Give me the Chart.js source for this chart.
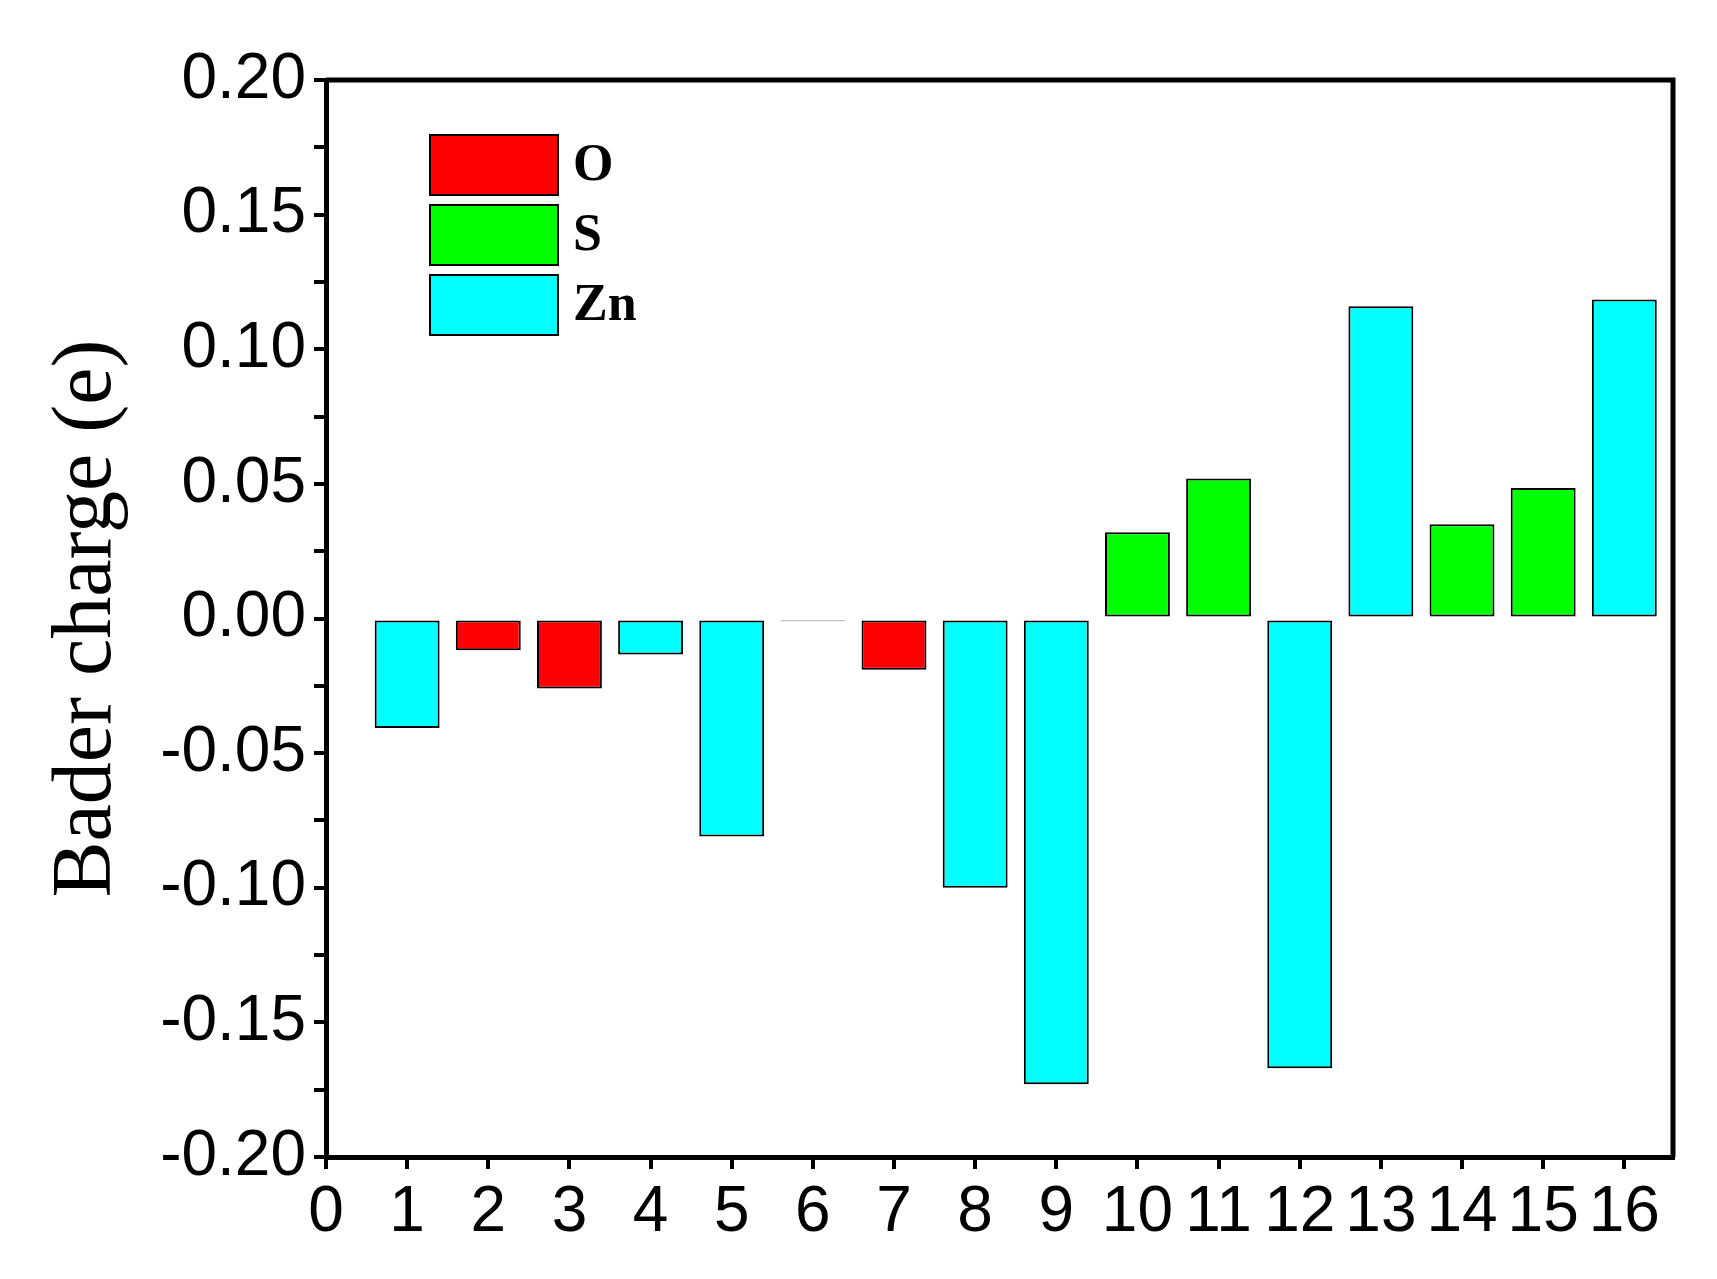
<!DOCTYPE html>
<html><head><meta charset="utf-8">
<script src="https://cdn.jsdelivr.net/npm/chart.js@4"></script>
<style>html,body{margin:0;padding:0;background:#fff}#w{width:1717px;height:1279px}</style>
</head><body><div id="w"><canvas id="c"></canvas></div>
<script>
const sites = [1,2,3,4,5,6,7,8,9,10,11,12,13,14,15,16];
const charges = [-0.0407,-0.0118,-0.026,-0.0134,-0.081,-0.001,-0.019,-0.100,-0.173,0.032,0.052,-0.167,0.116,0.035,0.0485,0.1185];
const elements = ['Zn','O','O','Zn','Zn','O','O','Zn','Zn','S','S','Zn','Zn','S','S','Zn'];
const xTicks = [0,1,2,3,4,5,6,7,8,9,10,11,12,13,14,15,16];
const seriesNames = ['O','S','Zn'];
const seriesColors = ['#ff0000','#00ff00','#00ffff'];

const datasets = seriesNames.map((n,i)=>({
  label:n,
  data: sites.map((s,k)=>elements[k]===n?{x:s,y:charges[k]}:null).filter(d=>d),
  backgroundColor: seriesColors[i], borderColor:'#000', borderWidth:2,
  borderSkipped:false, barPercentage:0.8, categoryPercentage:1, grouped:false
}));

const legendPlugin = {id:'lg', afterDraw(ch){
  const c=ch.ctx; c.save();
  ch.data.datasets.forEach((d,i)=>{
    const x=430,y=135+i*70;
    c.fillStyle=d.backgroundColor; c.fillRect(x,y,128,60);
    c.strokeStyle='#000'; c.lineWidth=2; c.strokeRect(x,y,128,60);
    c.fillStyle='#000'; c.font='bold 52px "Liberation Serif"'; c.textBaseline='middle';
    c.fillText(d.label,x+143,y+32);
  }); c.restore();
}};

new Chart(document.getElementById('c'),{
  type:'bar', data:{datasets},
  options:{responsive:true, maintainAspectRatio:false, animation:false,
    layout:{padding:{top:80,right:44,left:38}},
    plugins:{legend:{display:false},tooltip:{enabled:false}},
    scales:{
      x:{type:'linear',min:0,max:16.6,offset:false,
        border:{display:true,color:'#000',width:5},
        grid:{offset:false,drawOnChartArea:false,color:'#000',tickLength:12,lineWidth:4},
        afterBuildTicks(s){s.ticks=xTicks.map(v=>({value:v}));},
        ticks:{autoSkip:false,maxRotation:0,color:'#000',font:{family:'Liberation Sans',size:64},padding:6,
          callback:v=>String(v)},
        afterFit(s){s.height=122;}
      },
      y:{min:-0.2,max:0.2,
        border:{display:true,color:'#000',width:5},
        grid:{drawOnChartArea:false,color:'#000',tickLength:12,lineWidth:4},
        ticks:{stepSize:0.025,autoSkip:false,color:'#000',font:{family:'Liberation Sans',size:64},padding:8,
          callback:v=>{const r=Math.round(v*1000);return r%50===0?(r/1000).toFixed(2):'';}},
        title:{display:true,text:'Bader charge (e)',color:'#000',font:{family:'Liberation Serif',size:84},padding:0},
        afterFit(s){s.width=288;}
      }
    }
  },
  plugins:[legendPlugin, {id:'frame',afterDraw(ch){const a=ch.chartArea,c=ch.ctx;c.save();c.strokeStyle='#000';c.lineWidth=5;c.beginPath();c.moveTo(a.left,a.top);c.lineTo(a.right,a.top);c.lineTo(a.right,a.bottom);c.stroke();c.restore();}}]
});
</script></body></html>
